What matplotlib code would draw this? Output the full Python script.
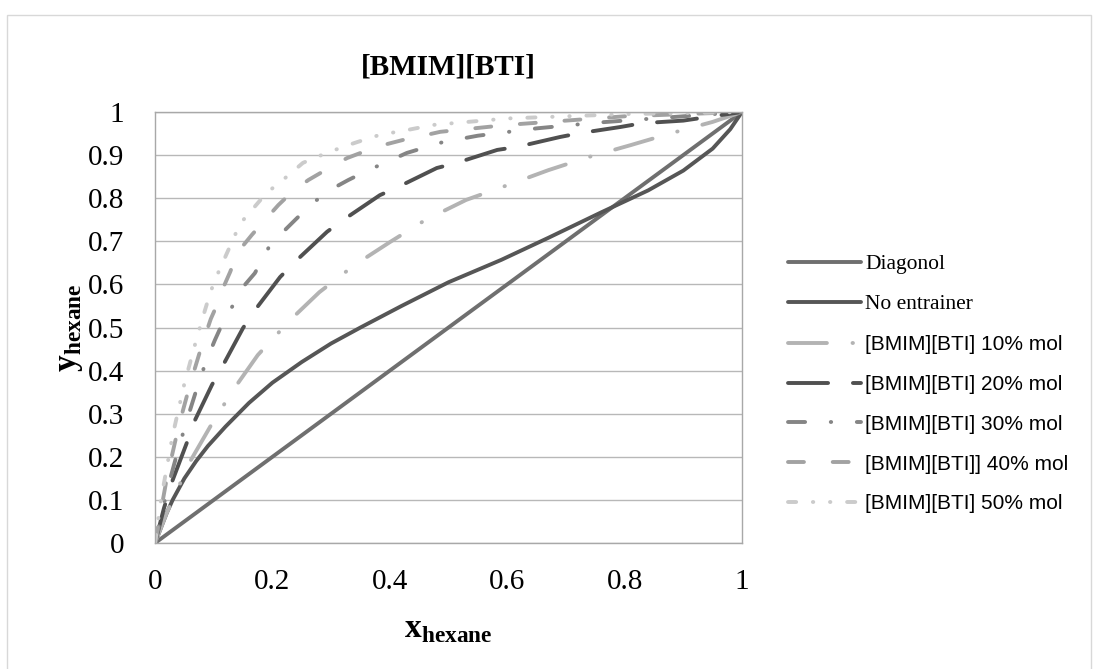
import matplotlib
matplotlib.use("Agg")
import matplotlib.pyplot as plt
from matplotlib.patches import Rectangle

# ---- data (x_hexane, y_hexane) ----
diag_x = [0, 1]
diag_y = [0, 1]

noent_x = [0, 0.01, 0.02, 0.03, 0.05, 0.07, 0.09, 0.12, 0.16, 0.20, 0.25, 0.30, 0.35, 0.42,
           0.50, 0.59, 0.67, 0.76, 0.84, 0.90, 0.95, 0.98, 1.0]
noent_y = [0, 0.035, 0.07, 0.10, 0.15, 0.19, 0.225, 0.27, 0.325, 0.372, 0.42, 0.463, 0.50, 0.55,
           0.605, 0.657, 0.708, 0.767, 0.818, 0.864, 0.915, 0.96, 1.0]

p10_x = [0, 0.02, 0.06, 0.094, 0.133, 0.175, 0.23, 0.28, 0.34, 0.40, 0.46, 0.53, 0.60, 0.67, 0.74, 0.81, 0.88, 0.95, 1.0]
p10_y = [0, 0.07, 0.19, 0.27, 0.355, 0.436, 0.517, 0.582, 0.645, 0.698, 0.749, 0.796, 0.83, 0.865, 0.896, 0.923, 0.951, 0.977, 1.0]

p20_x = [0, 0.015, 0.03, 0.054, 0.068, 0.097, 0.116, 0.15, 0.17, 0.213, 0.242, 0.293, 0.32, 0.383, 0.414, 0.48, 0.514, 0.583, 0.617, 0.69, 0.724, 0.792, 0.83, 0.90, 1.0]
p20_y = [0, 0.08, 0.146, 0.232, 0.285, 0.367, 0.413, 0.499, 0.54, 0.617, 0.657, 0.722, 0.749, 0.807, 0.826, 0.87, 0.882, 0.912, 0.919, 0.942, 0.951, 0.965, 0.974, 0.98, 1.0]

p30_x = [0, 0.02, 0.04, 0.06, 0.075, 0.088, 0.102, 0.116, 0.136, 0.153, 0.17, 0.193, 0.216, 0.242, 0.269, 0.298, 0.329, 0.363, 0.395, 0.429, 0.463, 0.49, 0.55, 0.65, 0.75, 0.85, 0.95, 1.0]
p30_y = [0, 0.12, 0.22, 0.31, 0.375, 0.425, 0.471, 0.513, 0.559, 0.599, 0.626, 0.684, 0.719, 0.754, 0.789, 0.819, 0.842, 0.865, 0.884, 0.905, 0.919, 0.93, 0.945, 0.962, 0.975, 0.985, 0.995, 1.0]

p40_x = [0, 0.02, 0.04, 0.06, 0.08, 0.095, 0.107, 0.116, 0.128, 0.141, 0.165, 0.187, 0.21, 0.233, 0.261, 0.29, 0.327, 0.354, 0.388, 0.422, 0.463, 0.486, 0.6, 0.8, 1.0]
p40_y = [0, 0.15, 0.27, 0.37, 0.46, 0.52, 0.557, 0.592, 0.629, 0.675, 0.715, 0.749, 0.784, 0.814, 0.842, 0.865, 0.893, 0.907, 0.923, 0.935, 0.947, 0.954, 0.97, 0.99, 1.0]

p50_x = [0, 0.01, 0.03, 0.05, 0.07, 0.085, 0.094, 0.102, 0.14, 0.15, 0.191, 0.208, 0.252, 0.276, 0.32, 0.344, 0.383, 0.429, 0.474, 0.6, 0.8, 1.0]
p50_y = [0, 0.10, 0.25, 0.37, 0.47, 0.54, 0.58, 0.61, 0.726, 0.749, 0.814, 0.831, 0.882, 0.896, 0.919, 0.93, 0.947, 0.958, 0.97, 0.985, 0.995, 1.0]

labels = ["Diagonol", "No entrainer",
          "[BMIM][BTI] 10% mol", "[BMIM][BTI] 20% mol", "[BMIM][BTI] 30% mol",
          "[BMIM][BTI]] 40% mol", "[BMIM][BTI] 50% mol"]
y_ticks = [0, 0.1, 0.2, 0.3, 0.4, 0.5, 0.6, 0.7, 0.8, 0.9, 1]
y_ticklabels = ["0", "0.1", "0.2", "0.3", "0.4", "0.5", "0.6", "0.7", "0.8", "0.9", "1"]
x_ticks = [0, 0.2, 0.4, 0.6, 0.8, 1]
x_ticklabels = ["0", "0.2", "0.4", "0.6", "0.8", "1"]

plt.rcParams["mathtext.fontset"] = "custom"
plt.rcParams["mathtext.bf"] = "Liberation Serif:bold"
plt.rcParams["mathtext.rm"] = "Liberation Serif"

fig = plt.figure(figsize=(10.95, 6.69), dpi=100)
ax = fig.add_axes([0.1416, 0.1883, 0.536, 0.6443])

lw = 2.8
# dash units are scaled by lw; round caps eat ~1 unit out of every gap
series = [
    (diag_x, diag_y, "#6f6f6f", None),
    (noent_x, noent_y, "#565656", None),
    (p10_x, p10_y, "#b3b3b3", (10.0, 6.6, 0.1, 6.6)),
    (p20_x, p20_y, "#505050", (10.3, 6.4)),
    (p30_x, p30_y, "#858585", (4.4, 6.6, 0.1, 6.6)),
    (p40_x, p40_y, "#a2a2a2", (4.1, 7.4)),
    (p50_x, p50_y, "#cbcbcb", (2.1, 4.3, 0.1, 4.3, 0.1, 4.3)),
]
for (xs, ys, col, dash), lab in zip(series, labels):
    ln, = ax.plot(xs, ys, color=col, lw=lw, label=lab,
                  solid_capstyle="round", dash_capstyle="round",
                  solid_joinstyle="round")
    if dash is not None:
        ln.set_dashes(dash)

ax.set_xlim(0, 1)
ax.set_ylim(0, 1)
ax.set_yticks(y_ticks)
ax.set_yticklabels(y_ticklabels, family="Liberation Serif", fontsize=21)
ax.set_xticks(x_ticks)
ax.set_xticklabels(x_ticklabels, family="Liberation Serif", fontsize=21)
ax.tick_params(axis="y", length=0, pad=22)
ax.tick_params(axis="x", length=0, pad=19)
ax.grid(axis="y", color="#b8b8b8", lw=1.0)
ax.set_axisbelow(True)
for s in ax.spines.values():
    s.set_color("#a8a8a8")
    s.set_linewidth(1.0)

ax.set_title("[BMIM][BTI]", family="Liberation Serif", fontweight="bold",
             fontsize=21, pad=27)
ax.set_xlabel(r"$\mathbf{x}_{\mathbf{hexane}}$", fontsize=24, labelpad=12)
ax.set_ylabel(r"$\mathbf{y}_{\mathbf{hexane}}$", fontsize=24, labelpad=2)

leg = ax.legend(loc="upper left", bbox_to_anchor=(0.7196, 0.62),
                bbox_transform=fig.transFigure, frameon=False,
                prop={"family": "Liberation Sans", "size": 15},
                handlelength=3.5, handletextpad=0.2, labelspacing=1.0,
                borderpad=0, borderaxespad=0)
for t in leg.get_texts()[:2]:
    t.set_fontfamily("Liberation Serif")
    t.set_fontsize(15.5)

fig.add_artist(Rectangle((0.006, -0.02), 0.99, 0.998, transform=fig.transFigure,
                         fill=False, edgecolor="#d8d8d8", lw=1.0))

fig.savefig("out.png", dpi=100)
